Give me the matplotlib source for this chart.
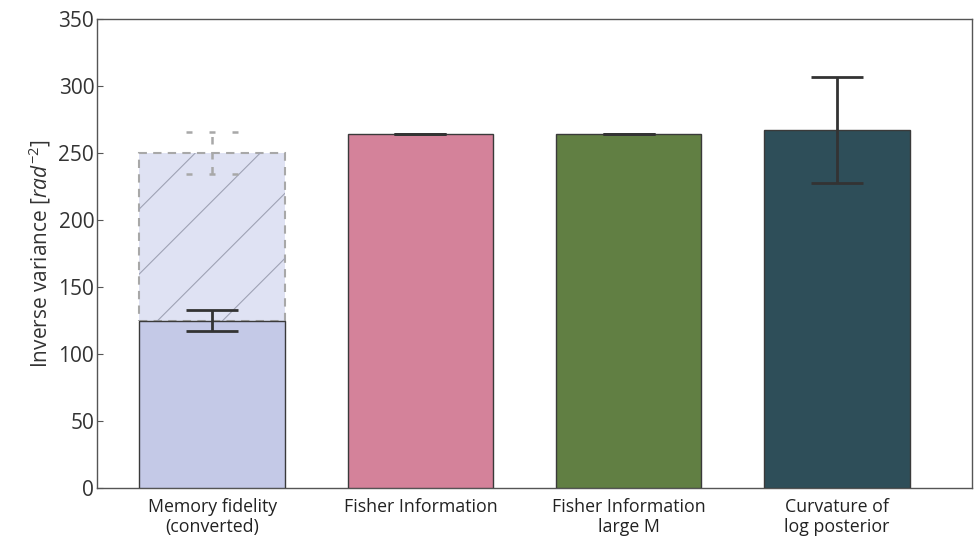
import matplotlib
matplotlib.use("Agg")
import matplotlib.pyplot as plt
from matplotlib.lines import Line2D
from matplotlib.transforms import IdentityTransform

plt.rcParams["font.family"] = ["Open Sans", "DejaVu Sans"]
plt.rcParams["mathtext.fontset"] = "custom"
plt.rcParams["mathtext.rm"] = "Open Sans"
plt.rcParams["mathtext.it"] = "Open Sans:italic"

# inverse variance for each estimate [rad^-2]
labels = ["Memory fidelity\n(converted)", "Fisher Information",
          "Fisher Information\nlarge M", "Curvature of\nlog posterior"]
values = [125.0, 264.0, 264.0, 267.0]
errors = [8.0, 0.0, 0.0, 39.5]
colors = ["#c4c9e7", "#d4829a", "#617f43", "#2e4e59"]

# memory fidelity without the conversion factor (dashed bar)
raw_value = 250.0
raw_error = 15.5

x = list(range(len(values)))
width = 0.7

fig = plt.figure(figsize=(9.75, 5.42), dpi=100)
ax = fig.add_axes([0.0995, 0.0996, 0.8974, 0.8654])

ax.set_xlim(-0.553, 3.649)
ax.set_ylim(0, 350)

# dashed unconverted bar stacked above the converted one
raw_bar = ax.bar(x[0], raw_value - values[0], width, bottom=values[0],
                 color="#dfe2f3", edgecolor="#a8a8a8", linewidth=1.5,
                 linestyle=(0, (4, 3)), zorder=1)[0]

bars = ax.bar(x, values, width, color=colors, edgecolor="#3a3a3a",
              linewidth=1.0, zorder=3)

# sparse diagonal hatch inside the dashed bar
(x0, y0), (x1, y1) = ax.transData.transform(
    [(x[0] - width / 2, values[0]), (x[0] + width / 2, raw_value)])
step = 65
start = x0 - y1 + 56
for k in range(-4, 6):
    c = start + k * step
    ln = Line2D([c + y0 - 10, c + y1 + 10], [y0 - 10, y1 + 10],
                transform=IdentityTransform(), color="#9ea2b5", lw=0.8, zorder=2)
    ax.add_artist(ln)
    ln.set_clip_path(raw_bar)

# dashed error bar of the unconverted value
cap = 0.125
ax.vlines(x[0], raw_value - raw_error, raw_value + raw_error, colors="#a8a8a8",
          linewidth=1.8, linestyles=(0, (3, 3)), zorder=2)
ax.hlines([raw_value - raw_error, raw_value + raw_error], x[0] - cap, x[0] + cap,
          colors="#a8a8a8", linewidth=1.8, linestyles=(0, (2.4, 6.8)), zorder=2)

ax.errorbar(x, values, yerr=errors, fmt="none", ecolor="#333333",
            elinewidth=2, capsize=18.7, capthick=2, zorder=4)

ax.set_xticks(x)
ax.set_xticklabels(labels, fontsize=12.8, color="#222222", linespacing=1.15)
ax.set_yticks(range(0, 351, 50))
ax.tick_params(axis="y", labelsize=15, labelcolor="#333333", direction="in",
               length=4, color="#555555", pad=2)
ax.tick_params(axis="x", direction="in", length=4, color="#555555", pad=7)
ax.tick_params(top=False, right=False)
for sp in ax.spines.values():
    sp.set_color("#555555")
    sp.set_linewidth(1.0)

ax.set_ylabel("Inverse variance [$rad^{-2}$]", fontsize=15, color="#333333",
              labelpad=4)

fig.savefig("out.png", dpi=100)
